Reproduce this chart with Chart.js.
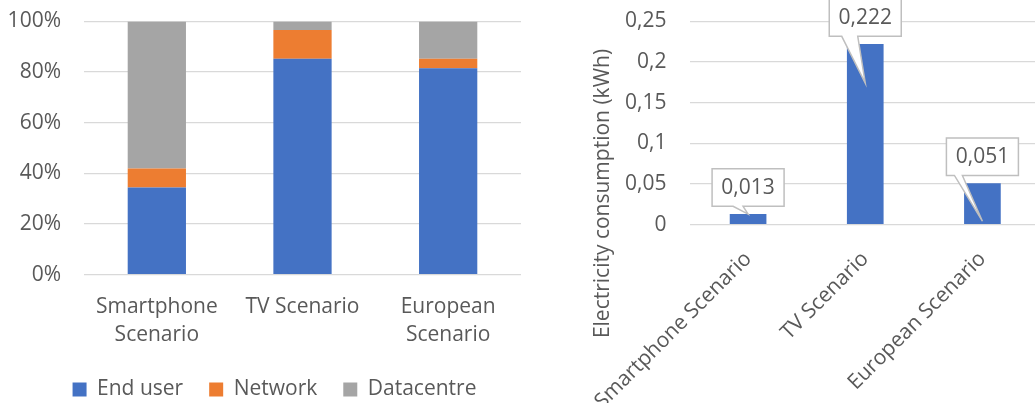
<!DOCTYPE html>
<html>
<head>
<meta charset="utf-8">
<script src="https://cdn.jsdelivr.net/npm/chart.js@4.4.1/dist/chart.umd.min.js"></script>
<style>
  html, body { margin: 0; padding: 0; background: #ffffff; overflow: hidden; width: 1035px; height: 403px; }
  #wrapL { position: absolute; left: 0; top: 0; width: 549px; height: 410px; }
  #wrapR { position: absolute; left: 560px; top: 0; width: 490px; height: 403px; }
</style>
</head>
<body>
<div id="wrapL"><canvas id="left"></canvas></div>
<div id="wrapR"><canvas id="right"></canvas></div>
<script>
// ---- data ----
const shareCategories = [['Smartphone', 'Scenario'], 'TV Scenario', ['European', 'Scenario']];
const endUserShare = [34.4, 85.3, 81.5];
const networkShare = [7.5, 11.3, 3.8];
const datacentreShare = [58.1, 3.4, 14.7];
const shareTickLabels = ['0%', '20%', '40%', '60%', '80%', '100%'];

const kwhCategories = ['Smartphone Scenario', 'TV Scenario', 'European Scenario'];
const kwhValues = [0.013, 0.222, 0.051];
const kwhTickLabels = ['0', '0,05', '0,1', '0,15', '0,2', '0,25'];
const kwhLabels = ['0,013', '0,222', '0,051'];
const yTitle = 'Electricity consumption (kWh)';

// ---- style ----
const FONT = "'Open Sans', 'DejaVu Sans', sans-serif";
const FS = 21;
const TXT = '#595959';
const GRID = '#d9d9d9';
Chart.defaults.font.family = FONT;
Chart.defaults.font.size = FS;
Chart.defaults.color = TXT;
Chart.defaults.animation = false;

// ---- left: 100% stacked bars ----
new Chart(document.getElementById('left'), {
  type: 'bar',
  data: {
    labels: shareCategories,
    datasets: [
      { label: 'End user', data: endUserShare, backgroundColor: '#4472c4' },
      { label: 'Network', data: networkShare, backgroundColor: '#ed7d31' },
      { label: 'Datacentre', data: datacentreShare, backgroundColor: '#a5a5a5' }
    ]
  },
  options: {
    responsive: true,
    maintainAspectRatio: false,
    layout: { padding: { left: 0, right: 0, top: 21.5, bottom: 0 } },
    datasets: { bar: { barPercentage: 0.4, categoryPercentage: 1.0 } },
    plugins: {
      legend: {
        position: 'bottom',
        labels: { boxWidth: 14, boxHeight: 14, padding: 26, color: TXT, font: { size: FS, family: FONT } }
      },
      tooltip: { enabled: false }
    },
    scales: {
      x: {
        stacked: true,
        grid: { display: false },
        border: { display: false },
        ticks: { color: TXT, padding: 10, font: { size: FS, lineHeight: 1.35 }, maxRotation: 0, autoSkip: false },
        afterFit: s => { s.height = 78.3; }
      },
      y: {
        stacked: true,
        min: 0, max: 100,
        grid: { color: GRID, lineWidth: 1.3, drawTicks: true, tickLength: 23, tickColor: 'rgba(0,0,0,0)' },
        border: { display: false },
        ticks: { stepSize: 20, padding: 0, color: TXT, callback: (v, i) => shareTickLabels[i] },
        afterFit: s => { s.width = 84; }
      },
      spacer: {
        position: 'right',
        display: true,
        grid: { display: false },
        border: { display: false },
        ticks: { display: false },
        afterFit: s => { s.width = 28; }
      }
    }
  }
});

// ---- right: bars with callouts ----
const calloutStyle = {
  boxW: 72, boxH: 37.5, dy: -26.5,
  tipFrac: [0.0, 0.217, 0.93],
  baseL: [-15, -23.5, -28],
  baseR: [-5, -7.5, -20]
};

const calloutPlugin = {
  id: 'callouts',
  afterDatasetsDraw(chart) {
    const ctx = chart.ctx;
    const meta = chart.getDatasetMeta(0);
    ctx.save();
    meta.data.forEach((bar, i) => {
      const cx = bar.x, cy = bar.y + calloutStyle.dy;
      const w = calloutStyle.boxW, h = calloutStyle.boxH;
      const l = cx - w / 2, r = cx + w / 2, t = cy - h / 2, b = cy + h / 2;
      const tipX = bar.x, tipY = bar.y + (bar.base - bar.y) * calloutStyle.tipFrac[i];
      ctx.beginPath();
      ctx.moveTo(l, t);
      ctx.lineTo(r, t);
      ctx.lineTo(r, b);
      ctx.lineTo(cx + calloutStyle.baseR[i], b);
      ctx.lineTo(tipX, tipY);
      ctx.lineTo(cx + calloutStyle.baseL[i], b);
      ctx.lineTo(l, b);
      ctx.closePath();
      ctx.fillStyle = '#ffffff';
      ctx.fill();
      ctx.strokeStyle = '#bfbfbf';
      ctx.lineWidth = 1.5;
      ctx.stroke();
      ctx.fillStyle = TXT;
      ctx.font = FS + 'px ' + FONT;
      ctx.textAlign = 'center';
      ctx.textBaseline = 'middle';
      ctx.fillText(kwhLabels[i], cx, cy);
    });
    ctx.restore();
  }
};

const yTitlePlugin = {
  id: 'ytitle',
  afterDraw(chart) {
    const ctx = chart.ctx;
    ctx.save();
    ctx.translate(43, 193.5);
    ctx.rotate(-Math.PI / 2);
    ctx.fillStyle = TXT;
    ctx.font = FS + 'px ' + FONT;
    ctx.textAlign = 'center';
    ctx.textBaseline = 'middle';
    ctx.fillText(yTitle, 0, 0);
    ctx.restore();
  }
};

new Chart(document.getElementById('right'), {
  type: 'bar',
  data: {
    labels: kwhCategories,
    datasets: [{ label: 'kWh', data: kwhValues, backgroundColor: '#4472c4' }]
  },
  options: {
    responsive: true,
    maintainAspectRatio: false,
    layout: { padding: { left: 0, right: 9, top: 21.3, bottom: 0 } },
    datasets: { bar: { barPercentage: 0.313, categoryPercentage: 1.0 } },
    plugins: { legend: { display: false }, tooltip: { enabled: false } },
    scales: {
      x: {
        grid: { display: false },
        border: { display: false },
        ticks: { color: TXT, padding: 14, minRotation: 45, maxRotation: 45, autoSkip: false },
        afterFit: s => { s.height = 178.3; }
      },
      y: {
        min: 0, max: 0.25,
        grid: { color: GRID, lineWidth: 1.3, drawTicks: true, tickLength: 23, tickColor: 'rgba(0,0,0,0)' },
        border: { display: false },
        ticks: { stepSize: 0.05, padding: 0, color: TXT, callback: (v, i) => kwhTickLabels[i] },
        afterFit: s => { s.width = 129.5; }
      }
    }
  },
  plugins: [calloutPlugin, yTitlePlugin]
});
</script>
</body>
</html>
